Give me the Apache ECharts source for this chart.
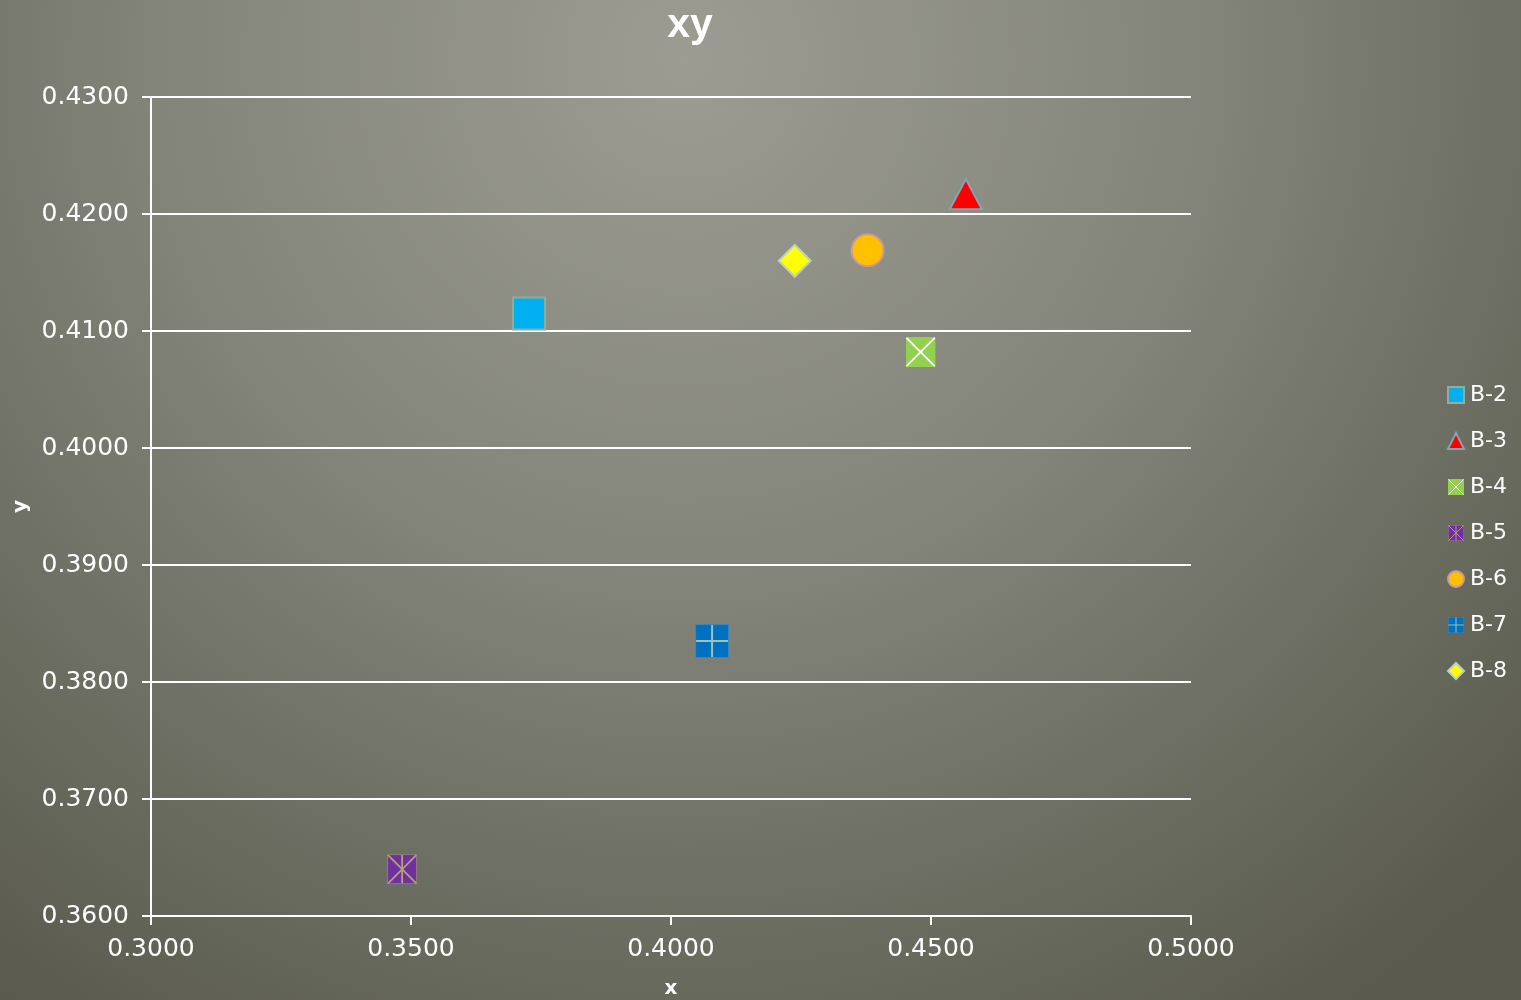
<!DOCTYPE html>
<html>
<head>
<meta charset="utf-8">
<script src="https://cdn.jsdelivr.net/npm/echarts@6/dist/echarts.min.js"></script>
<style>html,body{margin:0;padding:0;}#c{width:1521px;height:1000px;}</style>
</head>
<body>
<div id="c"></div>
<script>
const seriesNames = ['B-2','B-3','B-4','B-5','B-6','B-7','B-8'];
const xValues = [0.3727, 0.4567, 0.4480, 0.3483, 0.4378, 0.4079, 0.4238];
const yValues = [0.4115, 0.4217, 0.4082, 0.3640, 0.4169, 0.3835, 0.4160];
const xTicks = [0.30, 0.35, 0.40, 0.45, 0.50];
const yTicks = [0.36, 0.37, 0.38, 0.39, 0.40, 0.41, 0.42, 0.43];

function svgSym(svg){ return 'image://data:image/svg+xml;charset=utf-8,' + encodeURIComponent(svg); }
const symB4 = svgSym('<svg xmlns="http://www.w3.org/2000/svg" width="64" height="64" viewBox="0 0 34 34"><rect x="0" y="0" width="34" height="34" fill="#92d050"/><line x1="1" y1="1" x2="33" y2="33" stroke="#ffffff" stroke-width="2"/><line x1="33" y1="1" x2="1" y2="33" stroke="#ffffff" stroke-width="2"/></svg>');
const symB5 = svgSym('<svg xmlns="http://www.w3.org/2000/svg" width="64" height="64" viewBox="0 0 34 34"><rect x="0.5" y="0.5" width="33" height="33" fill="#7030a0" stroke="#9c8a78" stroke-width="1"/><line x1="1" y1="1" x2="33" y2="33" stroke="#b4a27c" stroke-width="2"/><line x1="33" y1="1" x2="1" y2="33" stroke="#b4a27c" stroke-width="2"/><line x1="17" y1="1" x2="17" y2="33" stroke="#b4a27c" stroke-width="2"/></svg>');
const symB7 = svgSym('<svg xmlns="http://www.w3.org/2000/svg" width="64" height="64" viewBox="0 0 34 34"><rect x="0.5" y="0.5" width="33" height="33" fill="#0070c0" stroke="#3f86b8" stroke-width="1"/><line x1="17" y1="1" x2="17" y2="33" stroke="#9ec4b0" stroke-width="2"/><line x1="1" y1="17" x2="33" y2="17" stroke="#9ec4b0" stroke-width="2"/></svg>');

const styles = [
  {symbol:'rect', size:32, color:'#00b0f0', border:'#8fae9c', bw:2},
  {symbol:'triangle', size:[32,30], color:'#ff0000', border:'#7fa6b6', bw:2},
  {symbol:symB4, size:30, color:'#92d050'},
  {symbol:symB5, size:30, color:'#7030a0'},
  {symbol:'circle', size:32, color:'#ffc000', border:'#c99a98', bw:2},
  {symbol:symB7, size:34, color:'#0070c0'},
  {symbol:'diamond', size:32, color:'#ffff00', border:'#b8d0c4', bw:2}
];

const FONT = 'DejaVu Sans';
const series = seriesNames.map((n,i)=>({
  name:n, type:'scatter',
  symbol: styles[i].symbol, symbolSize: styles[i].size,
  itemStyle: Object.assign({color: styles[i].color, opacity:1},
     styles[i].border ? {borderColor: styles[i].border, borderWidth: styles[i].bw} : {}),
  emphasis:{disabled:true},
  data:[[xValues[i], yValues[i]]]
}));

const chart = echarts.init(document.getElementById('c'));
chart.setOption({
  animation:false,
  backgroundColor:{type:'radial', x:0.45, y:0.06, r:1.15,
    colorStops:[{offset:0,color:'#9c9c93'},{offset:0.45,color:'#83847a'},{offset:1,color:'#5a5b4e'}]},
  title:{text:'xy', left:685, top:0, textAlign:'center',
    textStyle:{color:'#ffffff', fontFamily:'Liberation Sans', fontWeight:'bold', fontSize:41}},
  grid:{left:151, right:330, top:97, bottom:84, containLabel:false, outerBoundsMode:'none'},
  legend:{orient:'vertical', left:1442, top:379, itemGap:24, itemWidth:16, itemHeight:16,
    textStyle:{color:'#ffffff', fontFamily:FONT, fontSize:22, padding:[0,0,0,1]},
    data: seriesNames},
  xAxis:{type:'value', min:0.30, max:0.50, interval:0.05,
    name:'x', nameLocation:'middle', nameGap:63,
    nameTextStyle:{color:'#ffffff', fontFamily:FONT, fontWeight:'bold', fontSize:20},
    axisLine:{show:true, lineStyle:{color:'#ffffff', width:2}},
    axisTick:{show:true, length:9, lineStyle:{color:'#ffffff', width:2}},
    axisLabel:{color:'#ffffff', fontFamily:FONT, fontSize:25, margin:21,
      formatter:v=>v.toFixed(4)},
    splitLine:{show:false}},
  yAxis:{type:'value', min:0.36, max:0.43, interval:0.01,
    name:'y', nameLocation:'middle', nameGap:119, nameRotate:90,
    nameTextStyle:{color:'#ffffff', fontFamily:FONT, fontWeight:'bold', fontSize:20},
    axisLine:{show:true, lineStyle:{color:'#ffffff', width:2}},
    axisTick:{show:true, length:9, lineStyle:{color:'#ffffff', width:2}},
    axisLabel:{color:'#ffffff', fontFamily:FONT, fontSize:25, margin:22,
      formatter:v=>v.toFixed(4)},
    splitLine:{show:true, lineStyle:{color:'#ffffff', width:2}}},
  series: series
});
</script>
</body>
</html>
